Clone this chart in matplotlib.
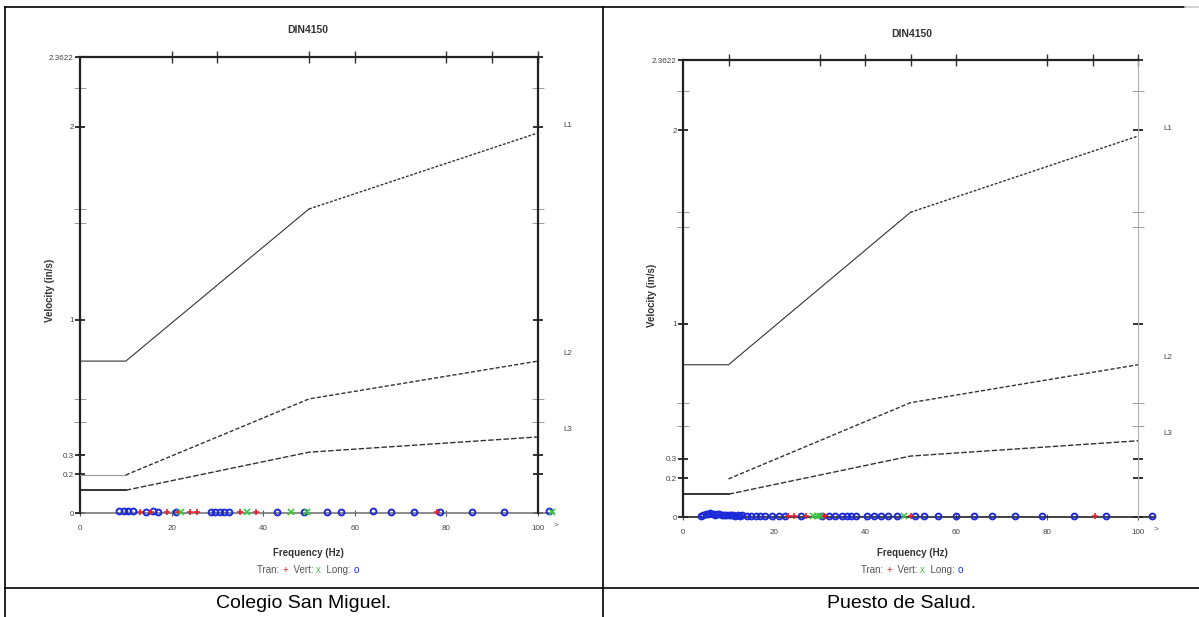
import matplotlib
matplotlib.use("Agg")
import matplotlib.pyplot as plt
from matplotlib.lines import Line2D

plt.rcParams['font.family'] = ['Liberation Sans', 'DejaVu Sans']

W, H = 1199, 617

# ---------------- data ----------------
din_freq = [0, 10, 50, 100]
din_L1 = [0.787, 0.787, 1.575, 1.969]
din_L2 = [0.197, 0.197, 0.591, 0.787]
din_L3 = [0.118, 0.118, 0.315, 0.394]
line_names = ["L1", "L2", "L3"]

y_major = [0, 0.2, 0.3, 1, 2, 2.3622]
y_major_labels = ["0", "0.2", "0.3", "1", "2", "2.3622"]
y_minor = [0.47, 0.591, 1.5, 1.575, 2.2]
x_ticks = [0, 20, 40, 60, 80, 100]
x_tick_labels = ["0", "20", "40", "60", "80", "100"]

# Colegio San Miguel
csm_top_ticks = [20, 30, 50, 60, 80, 90, 100]
csm_long_f = [8.5, 9.5, 10.5, 11.5, 14.5, 16.0, 17.0, 21.0, 28.5, 29.5, 30.5,
              31.5, 32.5, 43.0, 49.0, 54.0, 57.0, 64.0, 68.0, 73.0, 78.5,
              85.5, 92.5, 102.5]
csm_long_v = [0.012, 0.010, 0.008, 0.008, 0.006, 0.008, 0.006, 0.006, 0.004,
              0.006, 0.006, 0.004, 0.006, 0.004, 0.006, 0.004, 0.006, 0.008,
              0.006, 0.004, 0.006, 0.006, 0.006, 0.010]
csm_tran_f = [13.0, 15.5, 19.0, 21.5, 24.0, 25.5, 35.0, 38.5, 78.0]
csm_tran_v = [0.006, 0.006, 0.004, 0.006, 0.004, 0.004, 0.006, 0.004, 0.004]
csm_vert_f = [22.0, 36.5, 46.0, 49.5, 103.0]
csm_vert_v = [0.004, 0.006, 0.004, 0.006, 0.006]

# Puesto de Salud
ps_top_ticks = [10, 30, 40, 50, 60, 80, 90, 100]
ps_long_f = [4.0, 4.5, 5.0, 5.5, 6.0, 6.5, 7.0, 7.5, 8.0, 8.5, 9.0, 9.5, 10.0,
             10.5, 11.0, 11.5, 12.0, 12.5, 13.0, 14.0, 15.0, 16.0, 17.0, 18.0,
             19.5, 21.0, 22.5, 26.0, 30.5, 32.0, 33.5, 35.0, 36.0, 37.0, 38.0,
             40.5, 42.0, 43.5, 45.0, 47.0, 51.0, 53.0, 56.0, 60.0, 64.0, 68.0,
             73.0, 79.0, 86.0, 93.0, 103.0]
ps_long_v = [0.006, 0.010, 0.014, 0.018, 0.020, 0.016, 0.012, 0.018, 0.014,
             0.010, 0.012, 0.008, 0.010, 0.008, 0.010, 0.006, 0.008, 0.006,
             0.008, 0.006, 0.006, 0.004, 0.006, 0.004, 0.004, 0.004, 0.004,
             0.004, 0.004, 0.004, 0.004, 0.004, 0.004, 0.004, 0.004, 0.004,
             0.004, 0.004, 0.004, 0.004, 0.004, 0.004, 0.004, 0.006, 0.004,
             0.004, 0.004, 0.006, 0.006, 0.006, 0.006]
ps_tran_f = [23.0, 24.5, 27.0, 31.0, 50.0, 90.5]
ps_tran_v = [0.004, 0.004, 0.004, 0.004, 0.004, 0.004]
ps_vert_f = [28.5, 29.5, 30.0, 48.5]
ps_vert_v = [0.006, 0.006, 0.004, 0.004]

captions = ["Colegio San Miguel.", "Puesto de Salud."]

RED = "#e8202a"
GREEN = "#3cc83c"
BLUE = "#1c2ad8"
DARK = "#333333"

fig = plt.figure(figsize=(W / 100, H / 100), dpi=100)


def px_axes(x0, x1, ytop, ybot):
    return fig.add_axes([x0 / W, 1 - ybot / H, (x1 - x0) / W, (ybot - ytop) / H])


def fig_line(xs, ys, **kw):
    fig.add_artist(Line2D([x / W for x in xs], [1 - y / H for y in ys],
                          transform=fig.transFigure, **kw))


def chart(box, top_ticks, long_f, long_v, tran_f, tran_v, vert_f, vert_v,
          right_dark, zero_color, l2_from_10, title_y, center_x, ylab_x, ylab_y):
    x0, x1, ytop, ybot = box
    ax = px_axes(x0, x1, ytop, ybot)
    ax.set_xlim(0, 100)
    ax.set_ylim(0, 2.3622)
    ax.patch.set_alpha(0)
    for s in ["left", "top"]:
        ax.spines[s].set_linewidth(1.6)
        ax.spines[s].set_color("#222222")
    ax.spines["bottom"].set_visible(False)
    if right_dark:
        ax.spines["right"].set_linewidth(1.6)
        ax.spines["right"].set_color("#222222")
    else:
        ax.spines["right"].set_linewidth(0.8)
        ax.spines["right"].set_color("#b0b0b0")

    ax.set_yticks(y_major)
    ax.set_yticklabels(y_major_labels)
    ax.set_yticks(y_minor, minor=True)
    ax.tick_params(axis="y", which="major", direction="inout", length=7,
                   width=1.3, labelsize=5.8, labelcolor="#444444", pad=1,
                   right=True, labelright=False, color="#222222")
    ax.tick_params(axis="y", which="minor", direction="inout", length=8,
                   width=0.7, color="#999999", right=True)
    ax.set_xticks(x_ticks)
    ax.set_xticklabels(x_tick_labels)
    ax.tick_params(axis="x", direction="inout", length=5, width=0.8,
                   labelsize=5.8, labelcolor="#444444", pad=6, color="#555555")

    sec = ax.secondary_xaxis("top")
    sec.set_xticks(top_ticks)
    sec.set_xticklabels([])
    sec.tick_params(direction="inout", length=8, width=1.0, color="#333333")
    sec.spines["top"].set_visible(False)

    # zero line
    ax.plot([0, 103.5], [0, 0], color=zero_color, lw=1.2, clip_on=False, zorder=2)

    # DIN4150 curves
    ax.plot(din_freq[:3], din_L1[:3], color=DARK, lw=0.8, zorder=3)
    ax.plot(din_freq[2:], din_L1[2:], color=DARK, lw=1.0, ls=(0, (2, 1.2)), zorder=3)
    if l2_from_10:
        ax.plot(din_freq[1:], din_L2[1:], color=DARK, lw=1.0, ls=(0, (3, 1.5)), zorder=3)
    else:
        ax.plot(din_freq[:2], din_L2[:2], color="#999999", lw=0.8, zorder=3)
        ax.plot(din_freq[1:], din_L2[1:], color=DARK, lw=1.0, ls=(0, (3, 1.5)), zorder=3)
    ax.plot(din_freq[:2], din_L3[:2], color="#111111", lw=1.2, zorder=3)
    ax.plot(din_freq[1:], din_L3[1:], color=DARK, lw=1.0, ls=(0, (4, 1.5)), zorder=3)

    for name, vals in zip(line_names, [din_L1, din_L2, din_L3]):
        ax.text(105.5, vals[-1] + 0.04, name, fontsize=5.8, color="#444444",
                ha="left", va="center", clip_on=False)
    ax.text(103.5, -0.06, ">", fontsize=6, color="#555555", ha="left",
            va="center", clip_on=False)

    # event points
    ax.plot(long_f, long_v, ls="none", marker="o", ms=4.2, mfc="none",
            mec=BLUE, mew=1.4, clip_on=False, zorder=4)
    ax.plot(tran_f, tran_v, ls="none", marker="+", ms=5, mec=RED, mew=1.2,
            clip_on=False, zorder=5)
    ax.plot(vert_f, vert_v, ls="none", marker="x", ms=4, mec=GREEN, mew=1.2,
            clip_on=False, zorder=5)

    # texts
    fig.text(center_x / W, 1 - title_y / H, "DIN4150", fontsize=7.5,
             fontweight="bold", color="#333333", ha="center", va="center")
    fig.text(ylab_x / W, 1 - ylab_y / H, "Velocity (in/s)",
             fontsize=7, fontweight="bold", color="#333333", rotation=90,
             ha="center", va="center")
    fig.text(center_x / W, 1 - 553 / H, "Frequency (Hz)", fontsize=7,
             fontweight="bold", color="#333333", ha="center", va="center")

    pieces = [("Tran: ", "#555555"), ("+", RED), ("  Vert: ", "#555555"),
              ("x", GREEN), ("  Long: ", "#555555"), ("o", BLUE)]
    r = fig.canvas.get_renderer()
    widths = []
    arts = []
    for txt, col in pieces:
        t = fig.text(0, 1 - 570 / H, txt, fontsize=7, color=col, ha="left",
                     va="center")
        arts.append(t)
        widths.append(t.get_window_extent(r).width)
    total = sum(widths)
    x = center_x - total / 2
    for t, w in zip(arts, widths):
        t.set_x(x / W)
        x += w
    return ax


chart((80, 538, 57, 513), csm_top_ticks, csm_long_f, csm_long_v, csm_tran_f,
      csm_tran_v, csm_vert_f, csm_vert_v, right_dark=True, zero_color="#777777",
      l2_from_10=False, title_y=30, center_x=308, ylab_x=50, ylab_y=290)
chart((683, 1138, 60, 517), ps_top_ticks, ps_long_f, ps_long_v, ps_tran_f,
      ps_tran_v, ps_vert_f, ps_vert_v, right_dark=False, zero_color="#222222",
      l2_from_10=True, title_y=34, center_x=912, ylab_x=652, ylab_y=295)

# table borders
fig_line([5, 1185], [7, 7], color="black", lw=1.2)
fig_line([1185, 1199], [7, 7], color="#cccccc", lw=1.2)
fig_line([5, 5], [7, 617], color="black", lw=1.2)
fig_line([603, 603], [7, 617], color="black", lw=1.2)
fig_line([5, 1199], [588, 588], color="black", lw=1.2)

fig.text(304 / W, 1 - 603 / H, captions[0], fontsize=14, color="black",
         ha="center", va="center")
fig.text(902 / W, 1 - 603 / H, captions[1], fontsize=14, color="black",
         ha="center", va="center")

fig.savefig("out.png", dpi=100)
